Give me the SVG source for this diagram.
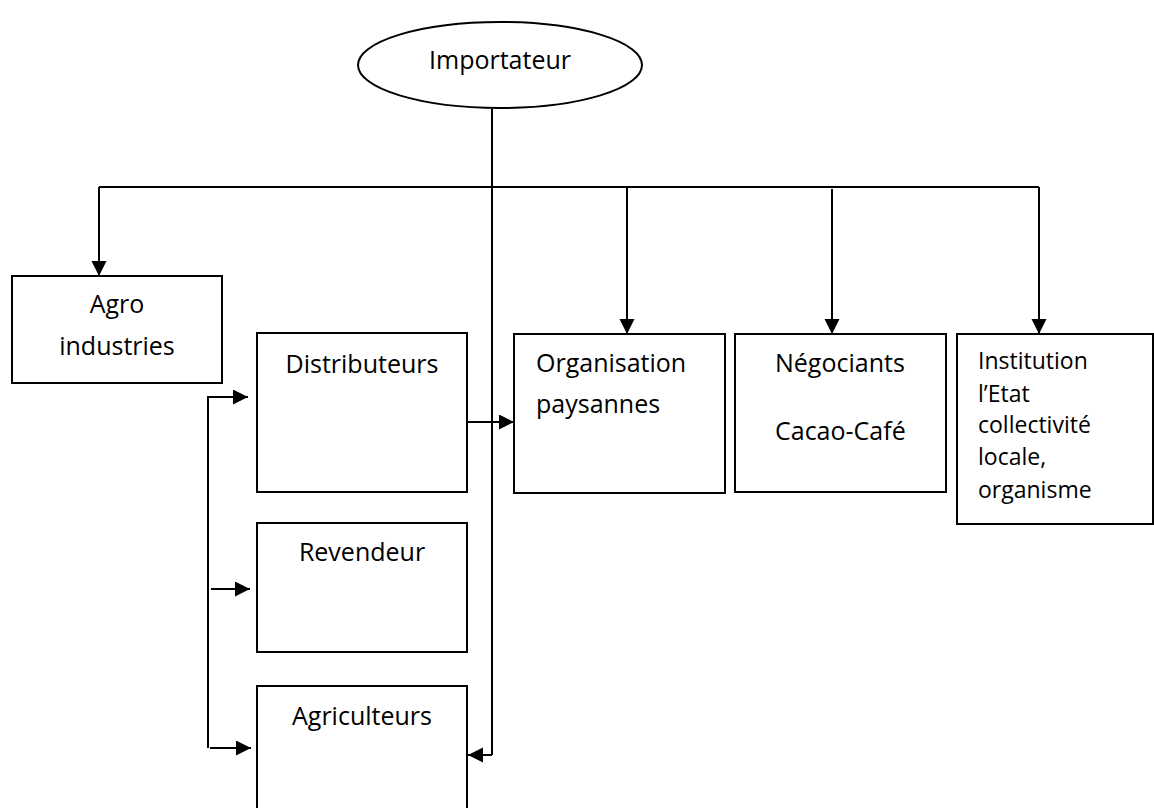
<svg xmlns="http://www.w3.org/2000/svg" width="1154" height="808" viewBox="0 0 1154 808">
<style>
.box{fill:#fff;stroke:#000;stroke-width:2}
.t{font-family:"Open Sans","Liberation Sans",sans-serif;font-size:25px;fill:#000}
.s{font-family:"Open Sans","Liberation Sans",sans-serif;font-size:23px;fill:#000}
.c{stroke:#000;stroke-width:2;fill:none}
.a{stroke:#000;stroke-width:2;fill:none;marker-end:url(#ah)}
</style>
<defs>
<marker id="ah" markerUnits="userSpaceOnUse" markerWidth="16" markerHeight="16" refX="15" refY="7.5" orient="auto">
<path d="M0,0 L15,7.5 L0,15 Z" fill="#000"/>
</marker>
</defs>
<g id="connectors">
<line class="c" x1="492" y1="109" x2="492" y2="755"/>
<line class="a" x1="492" y1="755" x2="468" y2="755"/>
<polyline class="c" points="99,187 1039,187"/>
<line class="a" x1="99" y1="187" x2="99" y2="276"/>
<line class="a" x1="627" y1="187" x2="627" y2="334"/>
<line class="a" x1="832" y1="189" x2="832" y2="334"/>
<line class="a" x1="1039" y1="187" x2="1039" y2="334"/>
<polyline class="a" points="208,748 208,397 248,397"/>
<line class="a" x1="211" y1="589" x2="250" y2="589"/>
<line class="a" x1="210" y1="748" x2="251" y2="748"/>
<line class="a" x1="467" y1="422" x2="514" y2="422"/>
</g>
<g id="importateur">
<ellipse class="box" cx="500" cy="65" rx="142" ry="43"/>
<text class="t" x="500" y="69" text-anchor="middle">Importateur</text>
</g>
<g id="agro">
<rect class="box" x="12" y="276" width="210" height="107"/>
<text class="t" x="117" y="313" text-anchor="middle">Agro</text>
<text class="t" x="117" y="355" text-anchor="middle">industries</text>
</g>
<g id="distributeurs">
<rect class="box" x="257" y="333" width="210" height="159"/>
<text class="t" x="362" y="373" text-anchor="middle">Distributeurs</text>
</g>
<g id="revendeur">
<rect class="box" x="257" y="523" width="210" height="129"/>
<text class="t" x="362" y="561" text-anchor="middle">Revendeur</text>
</g>
<g id="agriculteurs">
<rect class="box" x="257" y="686" width="210" height="140"/>
<text class="t" x="362" y="725" text-anchor="middle">Agriculteurs</text>
</g>
<g id="organisation">
<rect class="box" x="514" y="334" width="211" height="159"/>
<text class="t" x="536" y="372">Organisation</text>
<text class="t" x="536" y="413">paysannes</text>
</g>
<g id="negociants">
<rect class="box" x="735" y="334" width="211" height="158"/>
<text class="t" x="775" y="372">Négociants</text>
<text class="t" x="775" y="440">Cacao-Café</text>
</g>
<g id="institution">
<rect class="box" x="957" y="334" width="196" height="190"/>
<text class="s" x="978" y="369">Institution</text>
<text class="s" x="978" y="402">l’Etat</text>
<text class="s" x="978" y="433">collectivité</text>
<text class="s" x="978" y="465">locale,</text>
<text class="s" x="978" y="498">organisme</text>
</g>
</svg>
